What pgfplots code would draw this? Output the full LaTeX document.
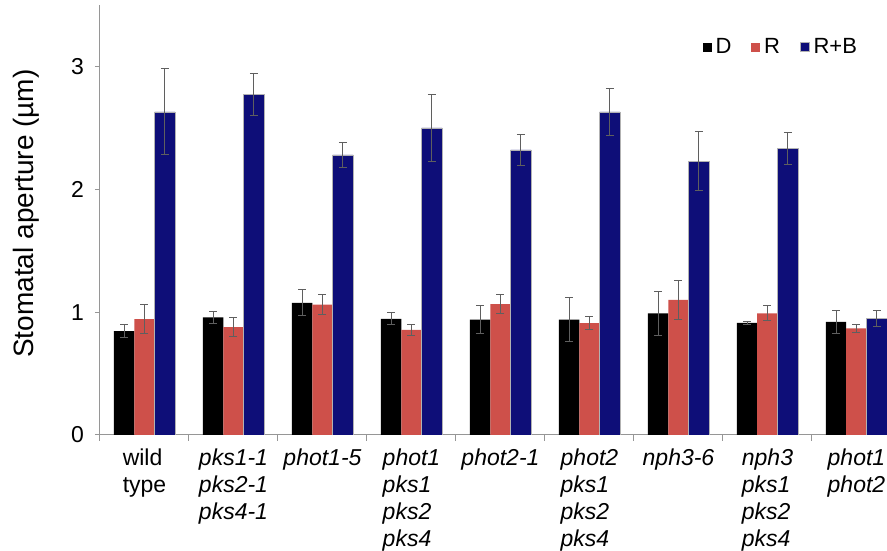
\documentclass[border=0pt]{standalone}
\usepackage{pgfplots}
\pgfplotsset{compat=1.18}
\usepackage{pgfplotstable}
\usepackage{fontspec}
\setmainfont{Liberation Sans}

\definecolor{barD}{RGB}{0,0,0}
\definecolor{barR}{RGB}{206,80,74}
\definecolor{barB}{RGB}{14,14,120}
\definecolor{errgray}{RGB}{95,95,95}
\definecolor{axgray}{RGB}{150,150,150}

% group  D  D_err  R  R_err  RB  RB_err
\pgfplotstableread{
x  D      De     R      Re     B      Be
0  0.845  0.055  0.943  0.120  2.63   0.35
1  0.957  0.050  0.878  0.075  2.77   0.17
2  1.076  0.105  1.062  0.080  2.28   0.10
3  0.946  0.050  0.856  0.044  2.50   0.27
4  0.940  0.110  1.065  0.075  2.32   0.13
5  0.940  0.180  0.910  0.055  2.63   0.19
6  0.990  0.180  1.100  0.160  2.23   0.24
7  0.913  0.014  0.990  0.060  2.33   0.13
8  0.920  0.090  0.867  0.030  0.946  0.065
}\aperture

\begin{document}
\begin{tikzpicture}
\begin{axis}[
  scale only axis,
  width=393.5pt, height=215pt,
  xmin=-0.5, xmax=8.343,
  ymin=0, ymax=3.5,
  axis x line=bottom, axis y line=left,
  axis line style={-, axgray, line width=0.5pt},
  ybar=0pt, bar width=0.23,
  ytick={0,1,2,3},
  tick align=outside,
  major tick length=2.5pt,
  ytick style={axgray, line width=0.5pt},
  /pgf/number format/assume math mode=true,
  yticklabel style={font=\fontsize{11.5}{13.5}\selectfont, xshift=-2pt},
  xtick={0,...,8},
  xtick style={draw=none},
  xticklabels={
    {wild\\type},
    {\itshape pks1-1\\\itshape pks2-1\\\itshape pks4-1},
    {\itshape phot1-5},
    {\itshape phot1\\\itshape pks1\\\itshape pks2\\\itshape pks4},
    {\itshape phot2-1},
    {\itshape phot2\\\itshape pks1\\\itshape pks2\\\itshape pks4},
    {\itshape nph3-6},
    {\itshape nph3\\\itshape pks1\\\itshape pks2\\\itshape pks4},
    {\itshape phot1\\\itshape phot2}},
  xticklabel style={font=\fontsize{11.5}{13.5}\selectfont, align=left, anchor=north, yshift=-1pt},
  extra x ticks={-0.5,0.5,1.5,2.5,3.5,4.5,5.5,6.5,7.5},
  extra x tick labels={},
  extra x tick style={xtick style={draw=axgray, line width=0.5pt}, major tick length=3pt},
  ylabel={Stomatal aperture (\textmu m)},
  ylabel style={font=\fontsize{14}{16}\selectfont, at={(axis description cs:-0.1105,0.515)}, anchor=north, inner sep=0pt},
  legend columns=3,
  legend style={draw=none, fill=none, at={(rel axis cs:0.975,0.902)}, anchor=east,
    font=\fontsize{11}{13}\selectfont,
    /tikz/every even column/.append style={column sep=8pt}},
  legend image code/.code={\fill[#1] (0pt,-2.2pt) rectangle (4.4pt,2.2pt);},
  error bars/y dir=both, error bars/y explicit,
  error bars/error bar style={errgray, line width=0.5pt},
  error bars/error mark options={rotate=90, mark size=2pt, errgray, line width=0.5pt},
]
\addplot[fill=barD, draw=none] table[x=x, y=D, y error=De] {\aperture};
\addplot[fill=barR, draw=none] table[x=x, y=R, y error=Re] {\aperture};
\addplot[fill=barB, draw=black!30, line width=0.3pt] table[x=x, y=B, y error=Be] {\aperture};
\legend{D, R, R+B}
\end{axis}
\pgfresetboundingbox
\path (current axis.south west) ++(-50pt,-58pt) coordinate (bbsw);
\path (current axis.north east) ++(0pt,2.5pt) coordinate (bbne);
\useasboundingbox (bbsw) rectangle (bbne);
\end{tikzpicture}
\end{document}
